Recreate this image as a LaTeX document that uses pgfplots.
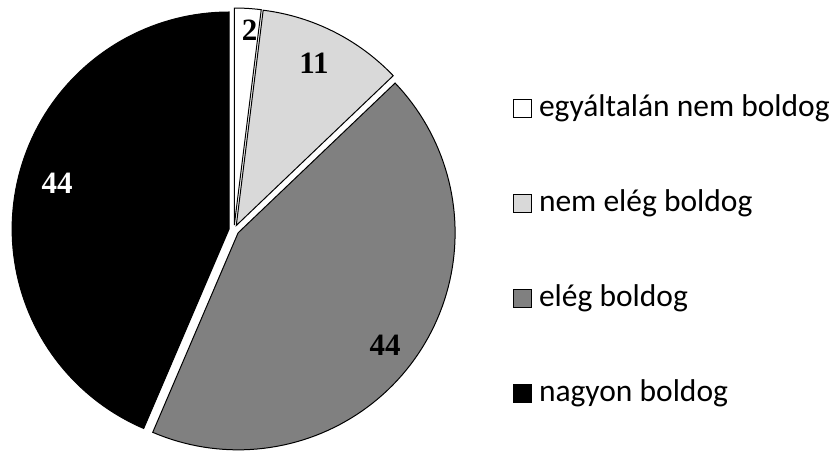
\documentclass[border=0pt]{standalone}
\usepackage{pgfplots}
\pgfplotsset{compat=1.18}
\usepackage{pgfplotstable}
\usepackage{fontspec}
\setmainfont{Carlito}
\newfontfamily\numfont{Liberation Serif}

\definecolor{sliceA}{HTML}{FFFFFF}
\definecolor{sliceB}{HTML}{D9D9D9}
\definecolor{sliceC}{HTML}{808080}
\definecolor{sliceD}{HTML}{000000}

\tikzset{label node/.style={font=\numfont\bfseries\fontsize{31bp}{37bp}\selectfont, inner sep=0pt, anchor=center}}

% value, label position (px, y up)
\pgfplotstableread{
value lx ly
2 249.5 421
11 314 388
44 385 106
44 57 268
}\piedata

\def\cx{234}\def\cy{221}\def\R{217}\def\ex{5}

\newcommand\getval[3]{\pgfplotstablegetelem{#1}{#2}\of\piedata\global\let#3\pgfplotsretval}

\getval{0}{value}\vA \getval{1}{value}\vB \getval{2}{value}\vC \getval{3}{value}\vD
\getval{0}{lx}\lxA \getval{1}{lx}\lxB \getval{2}{lx}\lxC \getval{3}{lx}\lxD
\getval{0}{ly}\lyA \getval{1}{ly}\lyB \getval{2}{ly}\lyC \getval{3}{ly}\lyD
\pgfmathsetmacro\tot{\vA+\vB+\vC+\vD}
\pgfmathsetmacro\aA{90}
\pgfmathsetmacro\aB{\aA-360*\vA/\tot}
\pgfmathsetmacro\aC{\aB-360*\vB/\tot}
\pgfmathsetmacro\aD{\aC-360*\vC/\tot}
\pgfmathsetmacro\aE{\aD-360*\vD/\tot}
\pgfmathsetmacro\xA{\cx+\ex*cos((\aA+\aB)/2)}\pgfmathsetmacro\yA{\cy+\ex*sin((\aA+\aB)/2)}
\pgfmathsetmacro\xB{\cx+\ex*cos((\aB+\aC)/2)}\pgfmathsetmacro\yB{\cy+\ex*sin((\aB+\aC)/2)}
\pgfmathsetmacro\xC{\cx+\ex*cos((\aC+\aD)/2)}\pgfmathsetmacro\yC{\cy+\ex*sin((\aC+\aD)/2)}
\pgfmathsetmacro\xD{\cx+\ex*cos((\aD+\aE)/2)}\pgfmathsetmacro\yD{\cy+\ex*sin((\aD+\aE)/2)}

% one exploded slice: colour, from angle, to angle, apex x, apex y
\newcommand\pieslice[5]{%
  \addplot[fill=#1, draw=black, line width=1bp, domain=#3:#2, samples=90, variable=\t]
    ({#4+\R*cos(\t)},{#5+\R*sin(\t)}) -- (axis cs:#4,#5) -- cycle;
}

\begin{document}
\begin{tikzpicture}
  \begin{axis}[
      scale only axis,
      width=835bp, height=451bp,
      xmin=0, xmax=835, ymin=0, ymax=451,
      hide axis, clip=false,
      legend entries={egyáltalán nem boldog, nem elég boldog, elég boldog, nagyon boldog},
      legend cell align=left,
      legend image code/.code={\draw[#1, line width=1bp] (0bp,-1bp) rectangle (18bp,17bp);},
      legend style={at={(axis cs:513,358)}, anchor=north west, draw=none, fill=none,
        inner sep=0pt, outer sep=0pt, row sep=64bp,
        font=\fontsize{31.5bp}{37bp}\selectfont,
        nodes={inner sep=0pt, text height=24bp, text depth=7bp},
        cells={anchor=base west},
        /tikz/every odd column/.append style={column sep=7bp}},
    ]
    \pieslice{sliceA}{\aA}{\aB}{\xA}{\yA}
    \pieslice{sliceB}{\aB}{\aC}{\xB}{\yB}
    \pieslice{sliceC}{\aC}{\aD}{\xC}{\yC}
    \pieslice{sliceD}{\aD}{\aE}{\xD}{\yD}
    \node[label node] at (axis cs:\lxA,\lyA) {\vA};
    \node[label node] at (axis cs:\lxB,\lyB) {\vB};
    \node[label node] at (axis cs:\lxC,\lyC) {\vC};
    \node[label node, text=white] at (axis cs:\lxD,\lyD) {\vD};
  \end{axis}
  \pgfresetboundingbox
  \path (current axis.south west) rectangle (current axis.north east);
\end{tikzpicture}
\end{document}
